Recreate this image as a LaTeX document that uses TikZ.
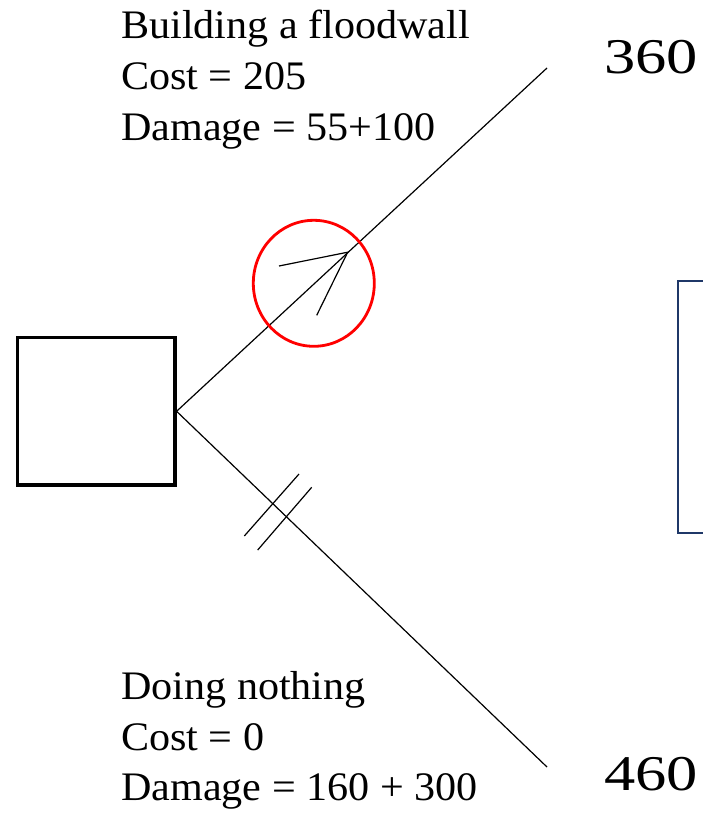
\documentclass[tikz,border=0pt]{standalone}
\usepackage{fontspec}
\setmainfont{Liberation Serif}
\usetikzlibrary{shapes.geometric}
\definecolor{navy}{RGB}{31,56,104}
\tikzset{
  conn/.style={draw=black, line width=1.2pt},
  lbl/.style={anchor=base west, inner sep=0pt, font=\fontsize{40.5}{40.5}\selectfont},
  num/.style={anchor=base west, inner sep=0pt, font=\fontsize{50}{50}\selectfont},
  decbox/.style={draw=black, line width=3.3pt, minimum width=157.3pt, minimum height=147.3pt, inner sep=0pt},
  hilite/.style={ellipse, draw=red, line width=2.8pt, minimum width=121pt, minimum height=126pt, inner sep=0pt}
}
\newcommand{\wx}[1]{\scalebox{1.04}[1]{#1}}
\newcommand{\wn}[1]{\scalebox{1.25}[1]{#1}}
\begin{document}
\begin{tikzpicture}[x=1pt,y=-1pt]
\useasboundingbox (0,0) rectangle (703,814);
% decision node
\node[decbox] (dec) at (96.3,411.3) {};
% branch ends
\coordinate (e1) at (547,68);
\coordinate (e2) at (547,767);
\draw[conn] (dec.east) -- (e1);
\draw[conn] (dec.east) -- (e2);
% arrow head
\coordinate (tip) at (347.7,252.2);
\coordinate (b1) at (279,266);
\coordinate (b2) at (316.7,315.3);
\draw[conn, line join=miter] (b1) -- (tip) -- (b2);
% highlight circle
\node[hilite] (hl) at (313.8,283.3) {};
% double bar
\coordinate (s1a) at (244.3,536);
\coordinate (s1b) at (299,474);
\coordinate (s2a) at (257.7,550);
\coordinate (s2b) at (311.7,487.3);
\draw[conn] (s1a) -- (s1b);
\draw[conn] (s2a) -- (s2b);
% right box (partly outside)
\coordinate (r1) at (720,280.7);
\coordinate (r2) at (678.3,280.7);
\coordinate (r3) at (678.3,532.7);
\coordinate (r4) at (720,532.7);
\draw[navy, line width=2pt] (r1) -- (r2) -- (r3) -- (r4);
% labels
\node[lbl] (t1) at (121,38) {\wx{Building a floodwall}};
\node[lbl] (t2) at (121,89.5) {\wx{Cost = 205}};
\node[lbl] (t3) at (121,140) {\wx{Damage = 55+100}};
\node[lbl] (u1) at (121,699.3) {\wx{Doing nothing}};
\node[lbl] (u2) at (121,750) {\wx{Cost = 0}};
\node[lbl] (u3) at (121,800.5) {\wx{Damage = 160 + 300}};
\node[num] (n1) at (604,73.3) {\wn{360}};
\node[num] (n2) at (604,790) {\wn{460}};
\end{tikzpicture}
\end{document}
